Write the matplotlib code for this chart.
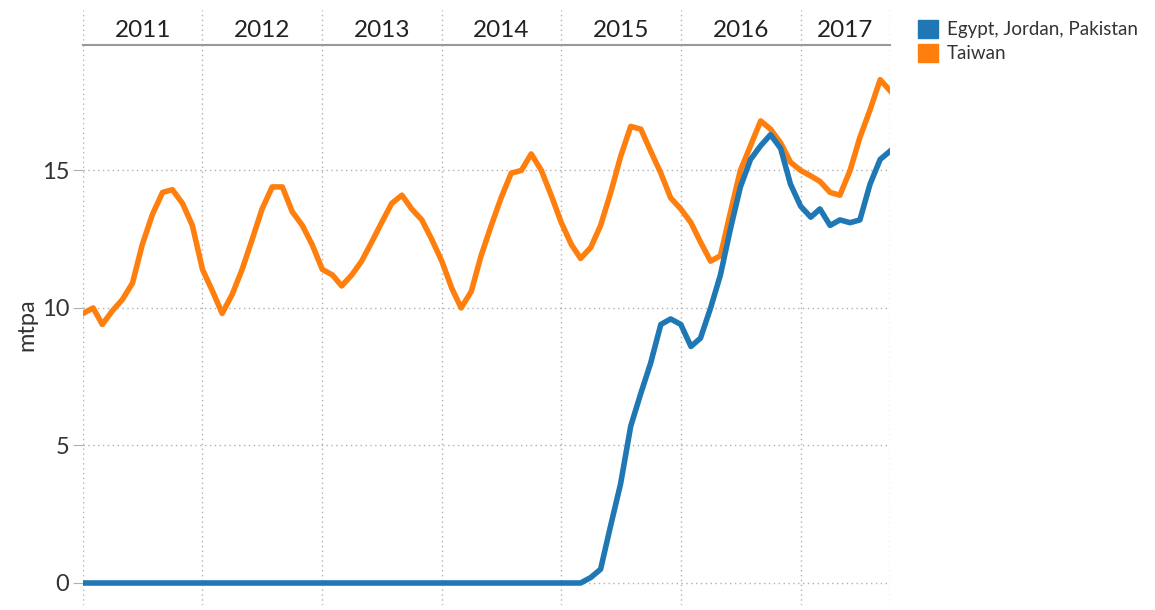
import pandas as pd
import matplotlib
matplotlib.use("Agg")
from matplotlib import pyplot as plt
from matplotlib.patches import Patch

plt.rcParams['font.family'] = ['Lato', 'DejaVu Sans']

# monthly values, Jan 2011 .. Oct 2017 (mtpa)
months = pd.date_range("2011-01-01", periods=82, freq="MS")

taiwan = [
    9.8, 10.0, 9.4, 9.9, 10.3, 10.9, 12.3, 13.4, 14.2, 14.3, 13.8, 13.0,   # 2011
    11.4, 10.6, 9.8, 10.5, 11.4, 12.5, 13.6, 14.4, 14.4, 13.5, 13.0, 12.3,  # 2012
    11.4, 11.2, 10.8, 11.2, 11.7, 12.4, 13.1, 13.8, 14.1, 13.6, 13.2, 12.5,  # 2013
    11.7, 10.7, 10.0, 10.6, 11.9, 13.0, 14.0, 14.9, 15.0, 15.6, 15.0, 14.1,  # 2014
    13.1, 12.3, 11.8, 12.2, 13.0, 14.2, 15.5, 16.6, 16.5, 15.7, 14.9, 14.0,  # 2015
    13.6, 13.1, 12.4, 11.7, 11.9, 13.5, 15.0, 15.9, 16.8, 16.5, 16.0, 15.3,  # 2016
    15.0, 14.8, 14.6, 14.2, 14.1, 15.0, 16.2, 17.2, 18.3, 17.9,              # 2017
]

egypt_jordan_pakistan = [0.0] * 48 + [
    0.0, 0.0, 0.0, 0.2, 0.5, 2.1, 3.6, 5.7, 6.9, 8.0, 9.4, 9.6,              # 2015
    9.4, 8.6, 8.9, 10.0, 11.2, 12.9, 14.4, 15.4, 15.9, 16.3, 15.8, 14.5,    # 2016
    13.7, 13.3, 13.6, 13.0, 13.2, 13.1, 13.2, 14.5, 15.4, 15.7,              # 2017
]

years = [2011, 2012, 2013, 2014, 2015, 2016, 2017]
yticks = [0, 5, 10, 15]

blue = "#1f77b4"
orange = "#ff7f0e"
grid_c = "#b0b0b0"
text_c = "#333333"

fig = plt.figure(figsize=(11.55, 6.1), dpi=100)
ax = fig.add_axes([83/1155, 1 - 605/610, 807/1155, 560/610])
hdr = fig.add_axes([83/1155, 1 - 45/610, 807/1155, 35/610], sharex=ax)

ax.plot(months, taiwan, color=orange, lw=4, solid_joinstyle="round", zorder=3)
ax.plot(months, egypt_jordan_pakistan, color=blue, lw=4, solid_joinstyle="round", zorder=4)

x0 = pd.Timestamp("2011-01-01")
x1 = months[-1]
ax.set_xlim(x0, x1)
ax.set_ylim(-0.8, 19.56)

bounds = [pd.Timestamp(f"{y}-01-01") for y in years]
for b in bounds + [x1]:
    ax.axvline(b, color=grid_c, lw=1, ls=(0, (1, 2.5)), zorder=1)
    hdr.axvline(b, color=grid_c, lw=1, ls=(0, (1, 2.5)))
for v in yticks:
    ax.axhline(v, color=grid_c, lw=1, ls=(0, (1, 2.5)), zorder=1)

for s in ax.spines.values():
    s.set_visible(False)
ax.set_xticks([])
ax.set_yticks(yticks)
ax.set_yticklabels([str(v) for v in yticks], fontsize=17, color=text_c)
ax.tick_params(axis="y", length=7, color=grid_c, pad=3)
ax.set_ylabel("mtpa", fontsize=17, color=text_c, labelpad=3)

# year header band
for s in hdr.spines.values():
    s.set_visible(False)
hdr.spines["bottom"].set_visible(True)
hdr.spines["bottom"].set_color("#999999")
hdr.spines["bottom"].set_linewidth(1.5)
hdr.set_ylim(0, 1)
hdr.tick_params(left=False, bottom=False, labelleft=False, labelbottom=False)
ends = bounds[1:] + [x1]
for y, a, b in zip(years, bounds, ends):
    hdr.text(a + (b - a) / 2, 0.42, str(y), ha="center", va="center",
             fontsize=17.5, color="#222222")

handles = [Patch(facecolor=blue, edgecolor=blue, label="Egypt, Jordan, Pakistan"),
           Patch(facecolor=orange, edgecolor=orange, label="Taiwan")]
fig.legend(handles=handles, loc="upper left", bbox_to_anchor=(910/1155, 1 - 12/610),
           frameon=False, fontsize=13.5, handlelength=1.1, handleheight=1.1,
           handletextpad=0.45, labelspacing=0.3, borderaxespad=0, labelcolor=text_c)

fig.savefig("out.png", dpi=100)
